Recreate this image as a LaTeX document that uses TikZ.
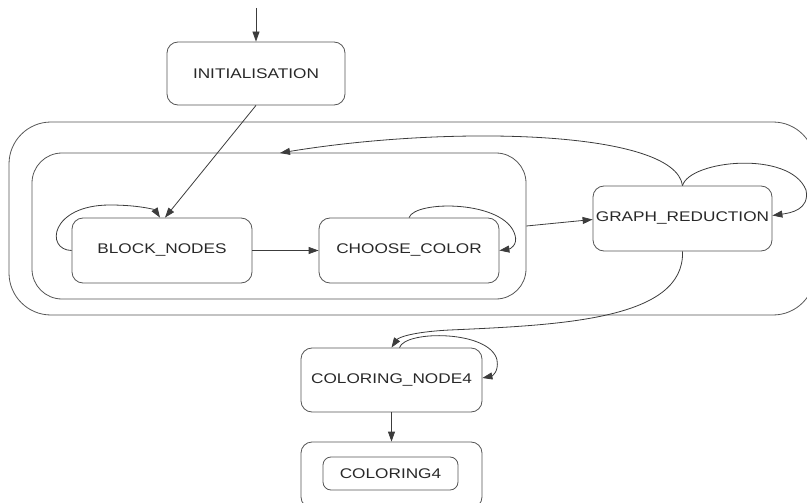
\documentclass[tikz,border=0pt]{standalone}
\usepackage{fontspec}
\setmainfont[FakeStretch=1.23]{Liberation Sans}
\usetikzlibrary{arrows.meta}
\definecolor{linegray}{RGB}{85,85,85}
\definecolor{edgegray}{RGB}{60,60,60}
\definecolor{textgray}{RGB}{40,40,40}
\begin{document}
\begin{tikzpicture}[x=1pt,y=-1pt,line width=0.8pt,
  stbox/.style={draw=linegray, rounded corners=11pt, minimum width=#1, minimum height=64pt,
    inner sep=0pt, text=textgray, font=\fontsize{14pt}{16pt}\selectfont},
  cluster/.style={draw=linegray, inner sep=0pt},
  edge/.style={draw=edgegray, -{Triangle[length=10pt,width=7pt]}}]
\useasboundingbox (0,0) rectangle (807,503);
\clip (0,0) rectangle (807,503);
% clusters
\node[cluster, rounded corners=42pt, minimum width=806pt, minimum height=193pt] (outer) at (412,218.5) {};
\node[cluster, rounded corners=30pt, minimum width=494pt, minimum height=146pt] (inner) at (279,226) {};
% states
\coordinate (start) at (256,8);
\node[stbox=178pt, minimum height=63pt] (init) at (256,73.5) {INITIALISATION};
\node[stbox=180pt, minimum height=65pt] (bn) at (162,250.5) {BLOCK\_NODES};
\node[stbox=180pt, minimum height=65pt] (cc) at (409,250.5) {CHOOSE\_COLOR};
\node[stbox=179pt, minimum height=65pt] (gr) at (682.5,218.5) {GRAPH\_REDUCTION};
\node[stbox=181pt, minimum height=64pt] (cn4) at (391.5,380) {COLORING\_NODE4};
\node[stbox=181pt, minimum height=66pt] (c4o) at (391.5,475) {};
\node[stbox=135pt, minimum height=33pt, rounded corners=8pt] (c4) at (390.5,473.5) {COLORING4};
% edges
\draw[edge] (start) -- (init.north);
\draw[edge] (init.south) -- ([xshift=3pt]bn.north);
\draw[edge] (bn.west) .. controls (45,250) and (50,205) .. (110,205)
  .. controls (140,205) and (155,210) .. ([xshift=-2pt]bn.north);
\draw[edge] (bn.east) -- (cc.west);
\draw[edge] (cc.north) .. controls (415,200) and (505,200) .. (515,235)
  .. controls (518,245) and (510,249) .. (cc.east);
\draw[edge] (inner.east) -- ([yshift=-1pt]gr.west);
\draw[edge] (gr.north) .. controls (675,130) and (450,125) .. (280,153);
\draw[edge] (gr.north) .. controls (690,160) and (790,150) .. (806,190)
  .. controls (810,210) and (790,213) .. ([yshift=3pt]gr.east);
\draw[edge] (gr.south) .. controls (685,320) and (560,325) .. (450,330)
  .. controls (410,332) and (398,338) .. (cn4.north);
\draw[edge] ([xshift=8pt]cn4.north) .. controls (405,330) and (490,330) .. (497,360)
  .. controls (499,372) and (492,376) .. ([yshift=2pt]cn4.east);
\draw[edge] (cn4.south) -- (c4o.north);
\end{tikzpicture}
\end{document}
